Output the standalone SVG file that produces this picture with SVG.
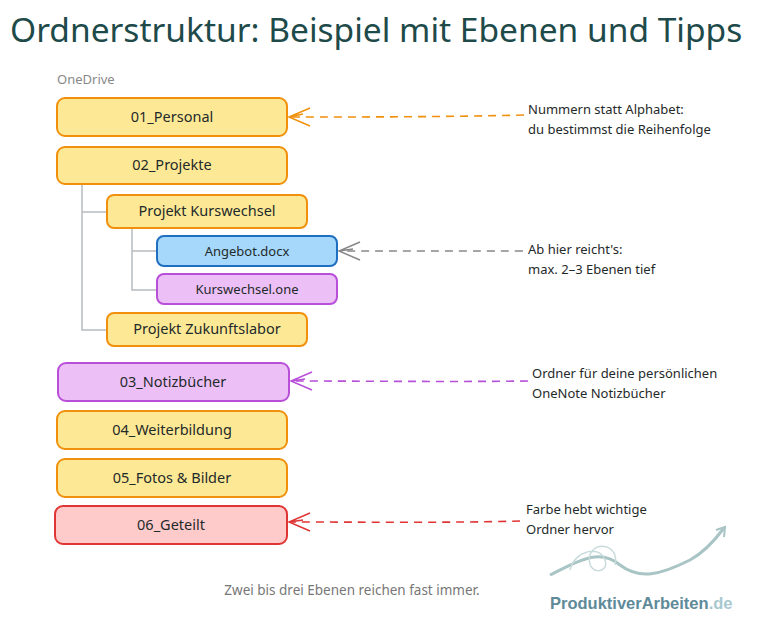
<svg xmlns="http://www.w3.org/2000/svg" width="761" height="630" viewBox="0 0 761 630">
<defs>
<style>
text{font-family:"Noto Sans","Open Sans",sans-serif;fill:#1f2a2a}
.n{font-size:14.5px;text-anchor:middle}
.s{font-size:13px}
.y{fill:#fde995;stroke:#f0900c;stroke-width:2}
.b{fill:#a6d8fb;stroke:#1f6fc0;stroke-width:2}
.p{fill:#ecc0f7;stroke:#b84fd8;stroke-width:2}
.r{fill:#ffcaca;stroke:#e03535;stroke-width:2}
.t{stroke:#b8bcbf;stroke-width:1.5;fill:none}
.d{fill:none;stroke-width:1.6;stroke-dasharray:8 6}
.h{fill:none;stroke-width:1.5}
</style>
</defs>
<rect width="761" height="630" fill="#fff"/>
<text x="10" y="42" style="font-size:33.5px;fill:#1e4a4a">Ordnerstruktur: Beispiel mit Ebenen und Tipps</text>
<text x="57" y="84" style="font-size:13px;fill:#888">OneDrive</text>
<g id="tree">
<path class="t" d="M82,184 V330 H107 M82,212 H107 M132,228 V290 H157 M132,251 H157"/>
</g>
<g id="connectors">
<path class="d" stroke="#f0900c" d="M524,115 C450,117 360,117 292,117"/>
<path class="h" stroke="#f0900c" d="M310,108 L289,117 L310,126 M289,117 L303,114"/>
<path class="d" stroke="#888" d="M523,251 C450,251 400,251 342,251"/>
<path class="h" stroke="#888" d="M360,242 L339,251 L360,260 M339,251 L353,249"/>
<path class="d" stroke="#b84fd8" d="M528,381 C450,382 360,381 294,381"/>
<path class="h" stroke="#b84fd8" d="M312,372 L291,381 L312,390 M291,381 L305,379"/>
<path class="d" stroke="#e03535" d="M520,521 C450,523 360,522 292,522"/>
<path class="h" stroke="#e03535" d="M310,513 L289,522 L310,531 M289,522 L303,520"/>
</g>
<g id="n1"><rect class="y" x="57" y="98" width="230" height="38" rx="8"/><text class="n" x="172" y="122">01_Personal</text></g>
<g id="n2"><rect class="y" x="57" y="147" width="230" height="37" rx="8"/><text class="n" x="172" y="170">02_Projekte</text></g>
<g id="n3"><rect class="y" x="107" y="195" width="200" height="33" rx="7"/><text class="n" x="207" y="216">Projekt Kurswechsel</text></g>
<g id="n4"><rect class="b" x="157" y="236" width="180" height="30" rx="7"/><text class="n" x="247" y="256" style="font-size:13px">Angebot.docx</text></g>
<g id="n5"><rect class="p" x="157" y="274" width="180" height="30" rx="7"/><text class="n" x="247" y="294" style="font-size:13px">Kurswechsel.one</text></g>
<g id="n6"><rect class="y" x="107" y="313" width="200" height="33" rx="7"/><text class="n" x="207" y="334">Projekt Zukunftslabor</text></g>
<g id="n7"><rect class="p" x="58" y="363" width="231" height="38" rx="8"/><text class="n" x="173" y="387">03_Notizbücher</text></g>
<g id="n8"><rect class="y" x="57" y="411" width="230" height="38" rx="8"/><text class="n" x="172" y="435">04_Weiterbildung</text></g>
<g id="n9"><rect class="y" x="57" y="459" width="230" height="38" rx="8"/><text class="n" x="172" y="483">05_Fotos &amp; Bilder</text></g>
<g id="n10"><rect class="r" x="55" y="506" width="232" height="38" rx="8"/><text class="n" x="171" y="530">06_Geteilt</text></g>
<g id="notes">
<text class="s" x="528" y="114">Nummern statt Alphabet:</text>
<text class="s" x="528" y="134">du bestimmst die Reihenfolge</text>
<text class="s" x="528" y="254">Ab hier reicht's:</text>
<text class="s" x="528" y="274">max. 2–3 Ebenen tief</text>
<text class="s" x="532" y="378">Ordner für deine persönlichen</text>
<text class="s" x="532" y="398">OneNote Notizbücher</text>
<text class="s" x="526" y="514">Farbe hebt wichtige</text>
<text class="s" x="526" y="534">Ordner hervor</text>
</g>
<text x="352" y="595" style="font-size:13.5px;fill:#777;text-anchor:middle">Zwei bis drei Ebenen reichen fast immer.</text>
<g id="logo">
<path d="M550,575 C580,560 600,548 620,565 C640,580 660,575 690,560 C705,552 715,540 724,528" fill="none" stroke="#a8c4c4" stroke-width="3"/>
<path d="M570,570 C575,550 600,545 605,560 C610,575 585,575 590,555 C595,540 620,545 615,565" fill="none" stroke="#c8dada" stroke-width="1.5"/>
<path d="M716,530 L725,527 L724,537" fill="none" stroke="#a8c4c4" stroke-width="2"/>
<text x="550" y="609" style="font-family:'Liberation Sans',sans-serif;font-size:16.5px;font-weight:bold;fill:#5e8a99">ProduktiverArbeiten<tspan style="fill:#a8c8d0">.de</tspan></text>
</g>
</svg>
